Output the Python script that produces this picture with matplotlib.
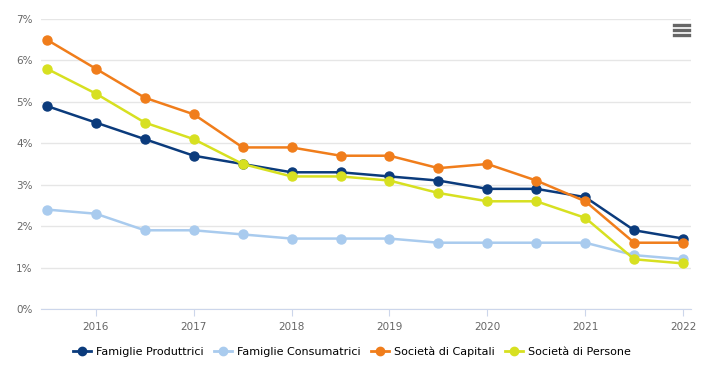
import matplotlib
matplotlib.use('Agg')
import matplotlib.pyplot as plt
from matplotlib.ticker import FuncFormatter
from matplotlib.lines import Line2D

# dati
periodi = [2015.5, 2016, 2016.5, 2017, 2017.5, 2018, 2018.5, 2019, 2019.5, 2020, 2020.5, 2021, 2021.5, 2022]
fam_produttrici = [4.9, 4.5, 4.1, 3.7, 3.5, 3.3, 3.3, 3.2, 3.1, 2.9, 2.9, 2.7, 1.9, 1.7]
fam_consumatrici = [2.4, 2.3, 1.9, 1.9, 1.8, 1.7, 1.7, 1.7, 1.6, 1.6, 1.6, 1.6, 1.3, 1.2]
soc_capitali = [6.5, 5.8, 5.1, 4.7, 3.9, 3.9, 3.7, 3.7, 3.4, 3.5, 3.1, 2.6, 1.6, 1.6]
soc_persone = [5.8, 5.2, 4.5, 4.1, 3.5, 3.2, 3.2, 3.1, 2.8, 2.6, 2.6, 2.2, 1.2, 1.1]
nomi = ['Famiglie Produttrici', 'Famiglie Consumatrici', 'Società di Capitali', 'Società di Persone']
colori = ['#0b3b7c', '#a9cbee', '#f07d1b', '#d7e021']
anni = [2016, 2017, 2018, 2019, 2020, 2021, 2022]

fig = plt.figure(figsize=(7.13, 3.65), dpi=100)
ax = fig.add_axes([41/713, 56/365, 650/713, 290/365])

serie = [fam_produttrici, fam_consumatrici, soc_capitali, soc_persone]
for valori, nome, col in zip(serie, nomi, colori):
    ax.plot(periodi, valori, color=col, lw=1.8, marker='o', ms=6.5, label=nome, zorder=3)

ax.set_xlim(2015.44, 2022.08)
ax.set_ylim(0, 7)
ax.set_yticks(range(0, 8))
ax.yaxis.set_major_formatter(FuncFormatter(lambda v, p: f'{int(v)}%'))
ax.set_xticks(anni)
ax.grid(axis='y', color='#e6e6e6', lw=1)
ax.set_axisbelow(True)
for s in ['top', 'right', 'left']:
    ax.spines[s].set_visible(False)
ax.spines['bottom'].set_color('#ccd6eb')
ax.tick_params(axis='y', length=0, labelsize=7.5, labelcolor='#666666', pad=6)
ax.tick_params(axis='x', length=5, color='#ccd6eb', labelsize=7.5, labelcolor='#666666', pad=4)

# legenda
handles = [Line2D([0], [0], color=c, lw=2, marker='o', ms=6) for c in colori]
fig.legend(handles, nomi, loc='center', bbox_to_anchor=(352/713, 1 - 352/365), ncol=4,
           frameon=False, fontsize=8, handlelength=1.6, columnspacing=1.0, handletextpad=0.4)

# icona menu
for yy in [25, 30, 35]:
    fig.add_artist(Line2D([674/713, 689/713], [1 - yy/365, 1 - yy/365], color='#666666', lw=2.4))

fig.savefig('out.png', dpi=100)
